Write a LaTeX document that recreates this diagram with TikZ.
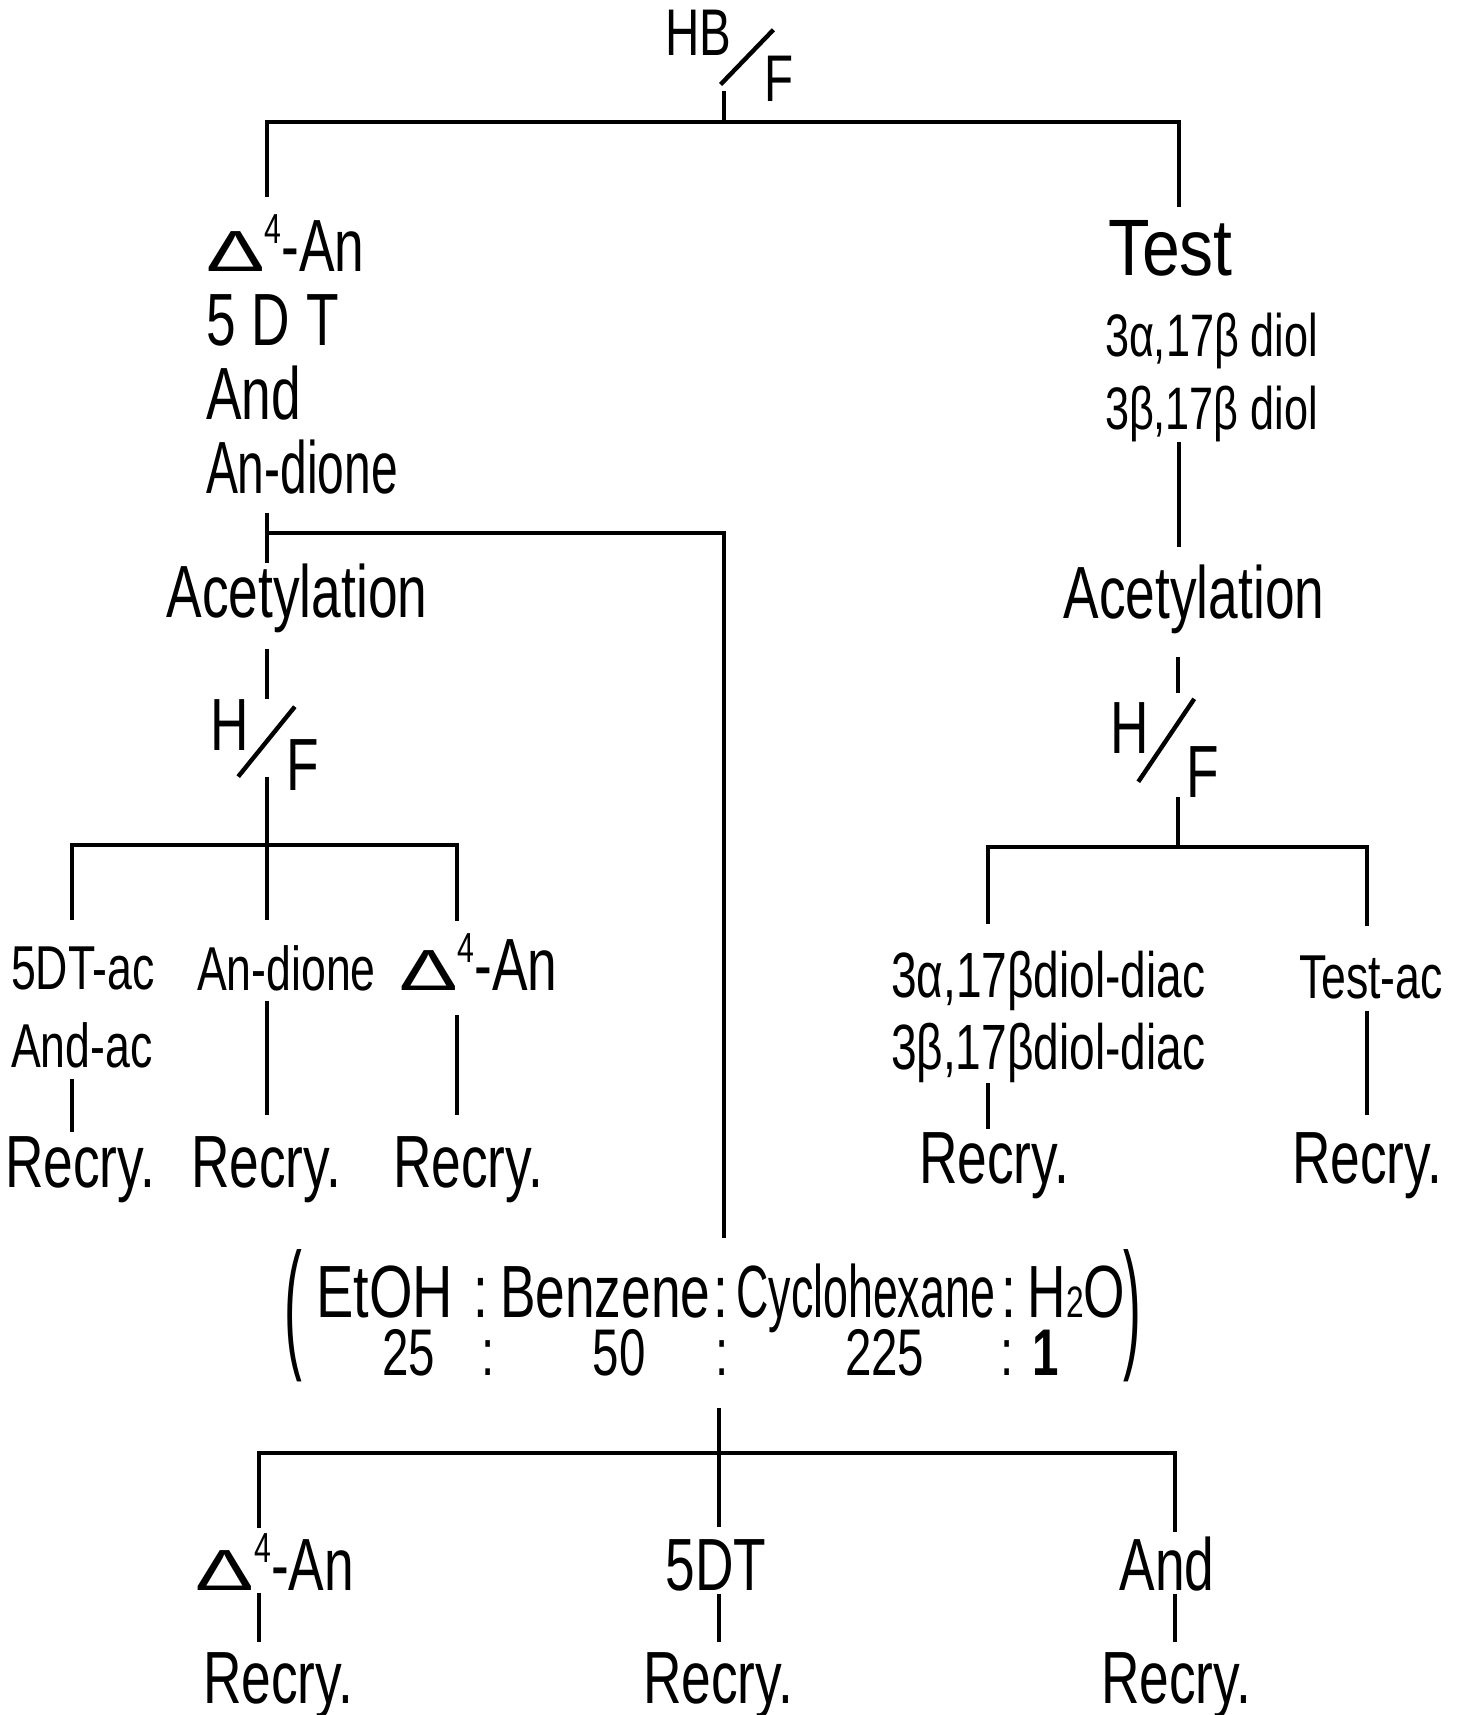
\documentclass[tikz,border=0pt]{standalone}
\usepackage{graphicx}
\usepackage{fontspec}
\setmainfont{Liberation Sans}[FakeStretch=0.72]
\newcommand{\ovr}[5]{\raisebox{#3}{#1}\kern-6pt\raisebox{-4pt}{\rotatebox{#5}{\rule{#4}{2.2pt}}}\kern-5pt\raisebox{-#3}{#2}}
\newcommand{\dfour}{{\fontsize{29}{29}\selectfont\scalebox{2.1}[1]{Δ}}\raisebox{14pt}{\fontsize{21}{21}\selectfont 4}}
\newcommand{\nm}[2]{{\fontsize{33}{33}\selectfont\makebox[0pt]{\hspace*{#1}#2}}}
\newcommand{\prn}[1]{\raisebox{-9.2pt}{\scalebox{1}[1.92]{#1}}}

\begin{document}
\begin{tikzpicture}[
    x=0.5pt, y=-0.5pt,
    txt/.style={inner sep=0pt, outer sep=0pt, font=\fontsize{37}{37}\selectfont},
    mid/.style={inner sep=0pt, outer sep=0pt, font=\fontsize{31}{39}\selectfont},
    ln/.style={line width=2.2pt}
  ]
  \useasboundingbox (0,0) rectangle (1467,1715);

  \node[txt, anchor=base west, font=\fontsize{33}{33}\selectfont] (hbf) at (665,78) {\ovr{HB}{F}{11.5pt}{38pt}{46}};
  \coordinate (j0) at (724,122);
  \coordinate (jL) at (267,122);
  \coordinate (jR) at (1179,122);

  \node[txt, anchor=north west, align=left] (lgrp) at (206,215) {\dfour-An\\5\kern8pt D\kern8pt T\\And\\\scalebox{0.9}[1]{An-dione}};
  \node[txt, anchor=base] (acL) at (297,617) {Acetylation};
  \node[txt, anchor=base west] (hfL) at (210,770) {\ovr{H}{F}{10pt}{45pt}{51}};
  \coordinate (mL) at (267,533);
  \coordinate (mR) at (724,533);
  \coordinate (aL) at (267,845);
  \coordinate (aL1) at (72,845);
  \coordinate (aL3) at (457,845);

  \node[txt, anchor=base west, font=\fontsize{40}{40}\selectfont] (tst) at (1108,275) {\scalebox{1.18}[1]{Test}};
  \node[mid, anchor=north west, align=left, font=\fontsize{30}{36.5}\selectfont] (dio) at (1105,313) {3α,17β diol\\3β,17β diol};
  \node[txt, anchor=base] (acR) at (1194,618) {Acetylation};
  \node[txt, anchor=base west] (hfR) at (1110,775) {\ovr{H}{F}{11pt}{50pt}{56}};
  \coordinate (aR) at (1178,847);
  \coordinate (aR1) at (988,847);
  \coordinate (aR2) at (1367,847);

  \node[mid, anchor=north west, align=left] (l5) at (11,947) {5DT-ac\\And-ac};
  \node[mid, anchor=base west] (lAd) at (197,990) {An-dione};
  \node[txt, anchor=base west] (lD4) at (399,990) {\dfour-An};
  \node[txt, anchor=base] (r1) at (80,1187) {Recry.};
  \node[txt, anchor=base] (r2) at (266,1187) {Recry.};
  \node[txt, anchor=base] (r3) at (468,1187) {Recry.};

  \node[mid, anchor=north west, align=left, font=\fontsize{32}{36}\selectfont] (rdd) at (891,951) {3α,17βdiol-diac\\3β,17βdiol-diac};
  \node[mid, anchor=base west] (rta) at (1299,998) {Test-ac};
  \node[txt, anchor=base] (r4) at (994,1183) {Recry.};
  \node[txt, anchor=base] (r5) at (1367,1183) {Recry.};

  \node[txt] (solv) at (713,1324) {\prn{(}\raisebox{-4.5pt}{\begin{tabular}{@{\hspace{7pt}}c@{\hspace{10pt}}c@{\hspace{6pt}}c@{\hspace{1.5pt}}c@{\hspace{4pt}}c@{\hspace{3pt}}c@{\hspace{6pt}}c@{\hspace{-1pt}}}
    \scalebox{1.05}[1]{EtOH} & : & Benzene & : & \scalebox{0.84}[1]{Cyclohexane} & : & H{\fontsize{22}{22}\selectfont 2}O\\[-8pt]
    \nm{24pt}{25} & \nm{7pt}{:} & \nm{14pt}{50} & \nm{1pt}{:} & \nm{19pt}{225} & \nm{-1pt}{:} & \nm{-31pt}{\textbf{1}}
  \end{tabular}}\prn{)}};
  \coordinate (b0) at (719,1453);
  \coordinate (b1) at (259,1453);
  \coordinate (b3) at (1175,1453);

  \node[txt, anchor=base] (bD4) at (275,1590) {\dfour-An};
  \node[txt, anchor=base] (b5) at (716,1590) {5DT};
  \node[txt, anchor=base] (bAn) at (1167,1590) {And};
  \node[txt, anchor=base] (r6) at (278,1703) {Recry.};
  \node[txt, anchor=base] (r7) at (718,1703) {Recry.};
  \node[txt, anchor=base] (r8) at (1176,1703) {Recry.};

  \draw[ln, shorten <=-5pt] (hbf.south -| j0) -- (j0);
  \draw[ln, shorten <=9pt, shorten >=6.5pt] (jL |- lgrp.north) -- (jL) -- (jR) -- (jR |- tst.north);

  \draw[ln, shorten <=9pt] (lgrp.south -| mL) -- (acL.north -| mL);
  \draw[ln, shorten >=6pt] (mL) -- (mR) -- (mR |- solv.north);
  \draw[ln, shorten <=8.5pt] (acL.south -| mL) -- (hfL.north -| mL);
  \draw[ln, shorten <=-6.5pt] (hfL.south -| aL) -- (aL);
  \draw[ln, shorten <=13.5pt, shorten >=6pt] (aL1 |- l5.north) -- (aL1) -- (aL3) -- (aL3 |- lD4.north);
  \draw[ln, shorten >=12.5pt] (aL) -- (aL |- lAd.north);
  \draw[ln, shorten <=5.5pt, shorten >=2pt] (l5.south -| aL1) -- (aL1 |- r1.north);
  \draw[ln, shorten <=5pt, shorten >=10.5pt] (lAd.south -| aL) -- (aL |- r2.north);
  \draw[ln, shorten <=12.5pt, shorten >=10.5pt] (lD4.south -| aL3) -- (aL3 |- r3.north);

  \draw[ln, shorten >=8.5pt] (dio.south -| jR) -- (jR |- acR.north);
  \draw[ln, shorten <=12pt, shorten >=2.5pt] (acR.south -| aR) -- (hfR.north -| aR);
  \draw[ln] (hfR.south -| aR) -- (aR);
  \draw[ln, shorten <=13.5pt, shorten >=14.5pt] (aR1 |- rdd.north) -- (aR1) -- (aR2) -- (aR2 |- rta.north);
  \draw[ln, shorten >=1.5pt] (rdd.south -| aR1) -- (aR1 |- r4.north);
  \draw[ln, shorten <=6pt, shorten >=8.5pt] (rta.south -| aR2) -- (aR2 |- r5.north);

  \draw[ln, shorten <=5pt] (solv.south -| b0) -- (b0);
  \draw[ln, shorten <=2.5pt, shorten >=2pt] (b1 |- bD4.north) -- (b1) -- (b3) -- (b3 |- bAn.north);
  \draw[ln, shorten >=6pt] (b0) -- (b0 |- b5.north);
  \draw[ln, shorten <=1.5pt, shorten >=5pt] (bD4.south -| b1) -- (b1 |- r6.north);
  \draw[ln, shorten <=1.5pt, shorten >=5pt] (b5.south -| b0) -- (b0 |- r7.north);
  \draw[ln, shorten <=1.5pt, shorten >=5pt] (bAn.south -| b3) -- (b3 |- r8.north);
\end{tikzpicture}
\end{document}
